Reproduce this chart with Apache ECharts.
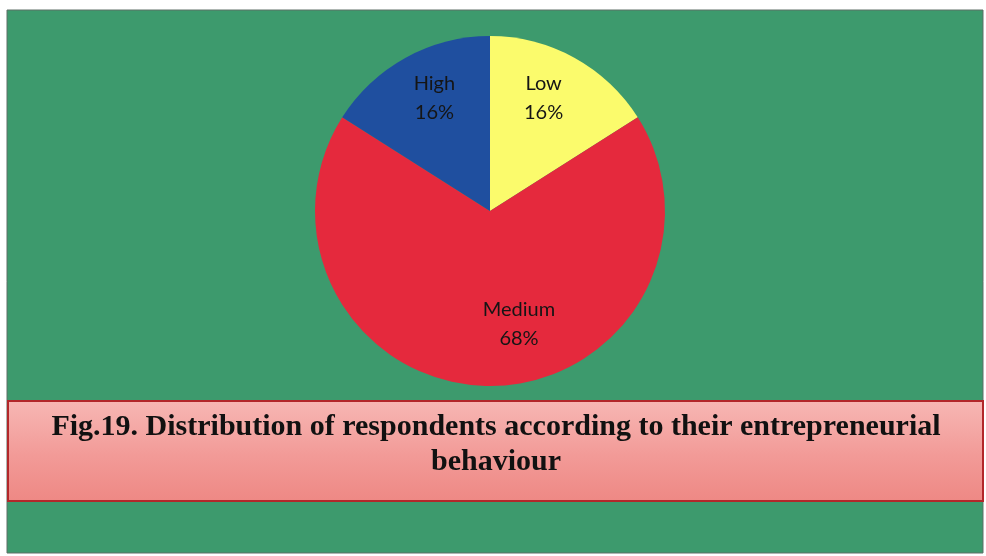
<!DOCTYPE html>
<html>
<head>
<meta charset="utf-8">
<script src="https://cdn.jsdelivr.net/npm/echarts@6/dist/echarts.min.js"></script>
<style>
  html, body { margin: 0; padding: 0; background: #ffffff; }
  #chart { width: 986px; height: 556px; }
</style>
</head>
<body>
<div id="chart"></div>
<script>
// Entrepreneurial behaviour levels and share of respondents (%)
const categories = ['Low', 'Medium', 'High'];
const shares = [16, 68, 16];
const sliceColors = ['#fbfb6c', '#e5293d', '#1f4f9f'];
// label nudges from the default inside position, in pixels
const labelNudges = [[10, -34], [29, 23], [-12, -34]];

const captionLines = [
  'Fig.19. Distribution of respondents according to their entrepreneurial',
  'behaviour'
];

const chart = echarts.init(document.getElementById('chart'), null, { renderer: 'canvas' });

chart.setOption({
  backgroundColor: '#ffffff',
  animation: false,
  graphic: [
    {
      type: 'rect', z: -10, silent: true,
      shape: { x: 7, y: 10, width: 976, height: 543 },
      style: { fill: '#3d9a6d', stroke: '#5f6f66', lineWidth: 1 }
    },
    {
      type: 'rect', z: 10, silent: true,
      shape: { x: 8, y: 401, width: 975, height: 100 },
      style: {
        fill: new echarts.graphic.LinearGradient(0, 0, 0, 1, [
          { offset: 0, color: '#f7b7b4' },
          { offset: 0.55, color: '#f29a97' },
          { offset: 1, color: '#ee8884' }
        ]),
        stroke: '#b2272a', lineWidth: 2
      }
    },
    {
      type: 'text', z: 11, silent: true,
      x: 496, y: 427,
      style: {
        text: captionLines[0],
        fontFamily: '"Liberation Serif", "Times New Roman", serif',
        fontWeight: 'bold',
        fontSize: 30,
        fill: '#111111',
        align: 'center',
        verticalAlign: 'middle'
      }
    },
    {
      type: 'text', z: 11, silent: true,
      x: 496, y: 462,
      style: {
        text: captionLines[1],
        fontFamily: '"Liberation Serif", "Times New Roman", serif',
        fontWeight: 'bold',
        fontSize: 30,
        fill: '#111111',
        align: 'center',
        verticalAlign: 'middle'
      }
    }
  ],
  series: [
    {
      type: 'pie',
      center: [490, 211],
      radius: [0, 175],
      startAngle: 90,
      clockwise: true,
      silent: true,
      itemStyle: { borderWidth: 0 },
      label: {
        show: true,
        position: 'inside',
        formatter: p => p.name + '\n' + p.value + '%',
        fontFamily: 'Lato, "Open Sans", sans-serif',
        fontSize: 20,
        lineHeight: 29,
        color: '#151515'
      },
      labelLine: { show: false },
      labelLayout: p => ({ dx: labelNudges[p.dataIndex][0], dy: labelNudges[p.dataIndex][1] }),
      data: categories.map((name, i) => ({
        name,
        value: shares[i],
        itemStyle: { color: sliceColors[i] }
      }))
    }
  ]
});
</script>
</body>
</html>
